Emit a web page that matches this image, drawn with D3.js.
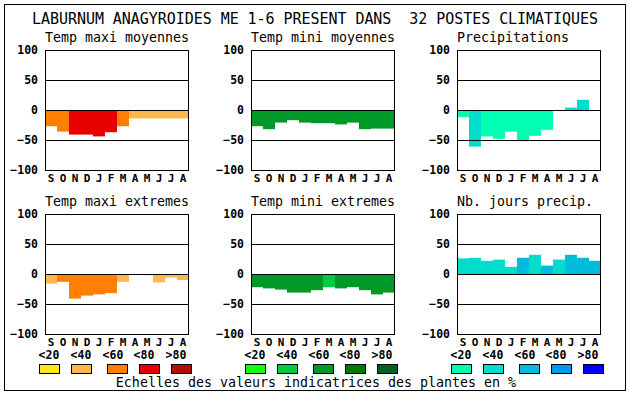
<!DOCTYPE html>
<html>
<head>
<meta charset="utf-8">
<script src="https://cdn.jsdelivr.net/npm/d3@7"></script>
<style>
  html, body { margin: 0; padding: 0; background: #fff; }
  svg { display: block; }
  .thin { font-family: "DejaVu Sans Mono", monospace; fill: #000; }
  .bold { font-family: "DejaVu Sans Mono", monospace; font-weight: bold; fill: #000; }
</style>
</head>
<body>
<svg id="chart" width="630" height="394"></svg>
<script>
// months of the year, starting in September
const months = ['S', 'O', 'N', 'D', 'J', 'F', 'M', 'A', 'M', 'J', 'J', 'A'];
const yTicks = [100, 50, 0, -50, -100];
const gridValues = [50, 0, -50];

// values per panel, and indicator class (0:<20 1:<40 2:<60 3:<80 4:>80)
const maxiMoy = [-27, -36, -41, -41, -44, -37, -27, -14, -14, -14, -14, -14];
const maxiMoyCls = [2, 2, 3, 3, 3, 3, 2, 1, 1, 1, 1, 1];
const miniMoy = [-27, -32, -21, -17, -21, -22, -22, -24, -21, -32, -31, -31];
const miniMoyCls = [2, 2, 2, 2, 2, 2, 2, 2, 2, 2, 2, 2];
const precip = [-12, -61, -44, -48, -36, -52, -43, -33, 0, 4, 17, 0];
const precipCls = [0, 1, 0, 0, 0, 0, 0, 0, 0, 1, 1, 1];
const maxiExt = [-16, -13, -41, -36, -34, -32, -13, 0, -2, -14, -6, -10];
const maxiExtCls = [1, 2, 2, 2, 2, 2, 1, 1, 1, 1, 1, 1];
const miniExt = [-22, -24, -26, -31, -31, -27, -22, -24, -22, -27, -34, -31];
const miniExtCls = [2, 2, 2, 2, 2, 2, 1, 2, 2, 2, 2, 2];
const joursPrecip = [26, 27, 22, 24, 12, 27, 32, 14, 24, 32, 27, 22];
const joursPrecipCls = [1, 1, 1, 1, 1, 2, 1, 2, 1, 2, 2, 2];

const legendLabels = ['<20', '<40', '<60', '<80', '>80'];
const palettes = {
  warm: ['#ffe81a', '#ffb850', '#ff8000', '#e80000', '#b01000'],
  green: ['#10ff10', '#00cc40', '#009928', '#007a00', '#006020'],
  blue: ['#00ffb0', '#00ddcc', '#00bbdd', '#0099ee', '#0000ff']
};

const title = 'LABURNUM ANAGYROIDES ME 1-6 PRESENT DANS  32 POSTES CLIMATIQUES';
const caption = 'Echelles des valeurs indicatrices des plantes en %';

const panels = [
  { title: 'Temp maxi moyennes', values: maxiMoy, cls: maxiMoyCls, pal: 'warm', col: 0, row: 0 },
  { title: 'Temp mini moyennes', values: miniMoy, cls: miniMoyCls, pal: 'green', col: 1, row: 0 },
  { title: 'Precipitations', values: precip, cls: precipCls, pal: 'blue', col: 2, row: 0 },
  { title: 'Temp maxi extremes', values: maxiExt, cls: maxiExtCls, pal: 'warm', col: 0, row: 1 },
  { title: 'Temp mini extremes', values: miniExt, cls: miniExtCls, pal: 'green', col: 1, row: 1 },
  { title: 'Nb. jours precip.', values: joursPrecip, cls: joursPrecipCls, pal: 'blue', col: 2, row: 1 }
];

const svg = d3.select('#chart');

svg.append('rect')
  .attr('x', 4.5).attr('y', 4.5)
  .attr('width', 621).attr('height', 386)
  .attr('fill', 'none').attr('stroke', '#000');

svg.append('text')
  .attr('class', 'thin')
  .attr('x', 315).attr('y', 24)
  .attr('text-anchor', 'middle')
  .style('font-size', '15px')
  .style('white-space', 'pre')
  .attr('textLength', 566)
  .text(title);

const colStep = 206;
const plotW = 144;
const plotH = 120;
const rowTops = [50, 214];

panels.forEach(p => {
  const left = 45 + p.col * colStep;
  const top = rowTops[p.row];
  const g = svg.append('g').attr('transform', `translate(${left},${top})`);

  const x = d3.scaleBand().domain(d3.range(months.length)).range([0, plotW]).padding(0);
  const y = d3.scaleLinear().domain([-100, 100]).range([plotH, 0]);
  const colors = palettes[p.pal];

  g.append('text')
    .attr('class', 'thin')
    .attr('x', 0).attr('y', -8)
    .style('font-size', '13.3px')
    .text(p.title);

  g.append('g')
    .selectAll('rect')
    .data(p.values)
    .join('rect')
    .attr('x', (d, i) => x(i))
    .attr('width', x.bandwidth())
    .attr('y', d => y(Math.max(0, d)))
    .attr('height', d => Math.abs(y(d) - y(0)))
    .attr('fill', (d, i) => colors[p.cls[i]]);

  g.append('g')
    .selectAll('line')
    .data(gridValues)
    .join('line')
    .attr('x1', 0).attr('x2', plotW)
    .attr('y1', d => Math.round(y(d)) + 0.5)
    .attr('y2', d => Math.round(y(d)) + 0.5)
    .attr('stroke', '#000');

  g.append('rect')
    .attr('x', 0.5).attr('y', 0.5)
    .attr('width', plotW - 1).attr('height', plotH)
    .attr('fill', 'none').attr('stroke', '#000');

  const yAxis = d3.axisLeft(y).tickValues(yTicks).tickSize(0).tickPadding(7);
  g.append('g')
    .call(yAxis)
    .call(s => s.select('.domain').remove())
    .selectAll('text')
    .attr('class', 'bold')
    .style('font-size', '11.5px')
    .attr('font-family', null);

  const xAxis = d3.axisBottom(x).tickFormat(i => months[i]).tickSize(0).tickPadding(4);
  g.append('g')
    .attr('transform', `translate(0,${plotH})`)
    .call(xAxis)
    .call(s => s.select('.domain').remove())
    .selectAll('text')
    .attr('class', 'bold')
    .style('font-size', '11px')
    .attr('font-family', null);
});

// legend
const boxOffsets = [0, 32, 68, 100, 132];
const labelOffsets = [0, 32, 64, 95, 127];
['warm', 'green', 'blue'].forEach((pal, k) => {
  const g = svg.append('g').attr('transform', `translate(${39 + k * colStep},0)`);
  g.selectAll('text')
    .data(legendLabels)
    .join('text')
    .attr('class', 'bold')
    .attr('x', (d, i) => 10 + labelOffsets[i])
    .attr('y', 359)
    .attr('text-anchor', 'middle')
    .style('font-size', '11.5px')
    .text(d => d);
  g.selectAll('rect')
    .data(palettes[pal])
    .join('rect')
    .attr('x', (d, i) => boxOffsets[i] + 0.5)
    .attr('y', 364.5)
    .attr('width', 20).attr('height', 9)
    .attr('fill', d => d)
    .attr('stroke', '#000');
});

svg.append('text')
  .attr('class', 'thin')
  .attr('x', 316).attr('y', 387)
  .attr('text-anchor', 'middle')
  .style('font-size', '13.3px')
  .text(caption);
</script>
</body>
</html>
